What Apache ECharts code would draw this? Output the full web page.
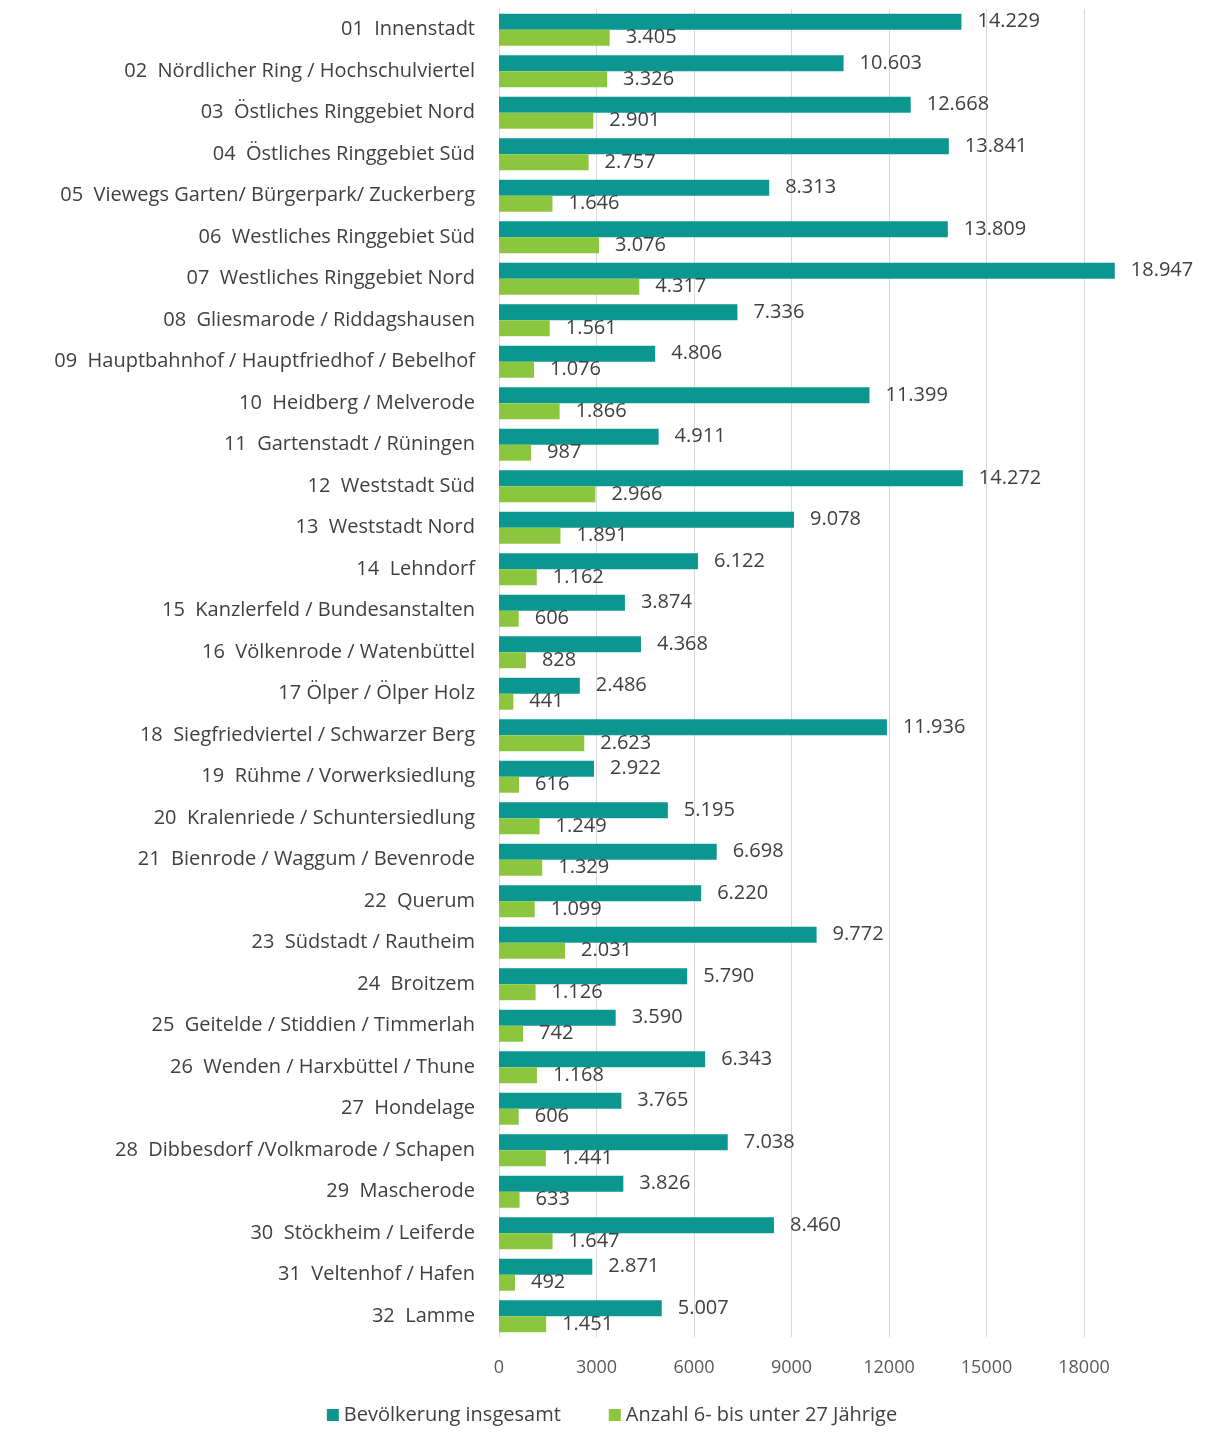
<!DOCTYPE html>
<html>
<head>
<meta charset="utf-8">
<script src="https://cdn.jsdelivr.net/npm/echarts@6/dist/echarts.min.js"></script>
<style>
  html, body { margin: 0; padding: 0; background: #fff; }
  #chart { width: 1224px; height: 1432px; }
</style>
</head>
<body>
<div id="chart"></div>
<script>
// Stadtbezirke (von oben nach unten)
const districts = [
  '01  Innenstadt',
  '02  Nördlicher Ring / Hochschulviertel',
  '03  Östliches Ringgebiet Nord',
  '04  Östliches Ringgebiet Süd',
  '05  Viewegs Garten/ Bürgerpark/ Zuckerberg',
  '06  Westliches Ringgebiet Süd',
  '07  Westliches Ringgebiet Nord',
  '08  Gliesmarode / Riddagshausen',
  '09  Hauptbahnhof / Hauptfriedhof / Bebelhof',
  '10  Heidberg / Melverode',
  '11  Gartenstadt / Rüningen',
  '12  Weststadt Süd',
  '13  Weststadt Nord',
  '14  Lehndorf',
  '15  Kanzlerfeld / Bundesanstalten',
  '16  Völkenrode / Watenbüttel',
  '17 Ölper / Ölper Holz',
  '18  Siegfriedviertel / Schwarzer Berg',
  '19  Rühme / Vorwerksiedlung',
  '20  Kralenriede / Schuntersiedlung',
  '21  Bienrode / Waggum / Bevenrode',
  '22  Querum',
  '23  Südstadt / Rautheim',
  '24  Broitzem',
  '25  Geitelde / Stiddien / Timmerlah',
  '26  Wenden / Harxbüttel / Thune',
  '27  Hondelage',
  '28  Dibbesdorf /Volkmarode / Schapen',
  '29  Mascherode',
  '30  Stöckheim / Leiferde',
  '31  Veltenhof / Hafen',
  '32  Lamme'
];

const population = [
  14229, 10603, 12668, 13841, 8313, 13809, 18947, 7336, 4806, 11399, 4911,
  14272, 9078, 6122, 3874, 4368, 2486, 11936, 2922, 5195, 6698, 6220, 9772,
  5790, 3590, 6343, 3765, 7038, 3826, 8460, 2871, 5007
];

const youth = [
  3405, 3326, 2901, 2757, 1646, 3076, 4317, 1561, 1076, 1866, 987,
  2966, 1891, 1162, 606, 828, 441, 2623, 616, 1249, 1329, 1099, 2031,
  1126, 742, 1168, 606, 1441, 633, 1647, 492, 1451
];

const seriesNames = ['Bevölkerung insgesamt', 'Anzahl 6- bis unter 27 Jährige'];
const colors = ['#0b968f', '#8cc63f'];

const font = '"Open Sans", Lato, sans-serif';

/* Tausendertrenner mit Punkt */
const fmt = (v) => String(v).replace(/\B(?=(\d{3})+(?!\d))/g, '.');

const labelStyle = {
  show: true,
  position: 'right',
  distance: 16,
  color: '#404040',
  fontSize: 20,
  fontFamily: font,
  formatter: (p) => fmt(p.value),
};

const myChart = echarts.init(document.getElementById('chart'), null, { renderer: 'canvas' });

myChart.setOption({
  animation: false,
  backgroundColor: '#fff',
  color: colors,
  grid: { left: 499, right: 140, top: 9, bottom: 95, containLabel: false },
  legend: {
    bottom: 2,
    left: 'center',
    icon: 'rect',
    itemWidth: 12,
    itemHeight: 12,
    itemGap: 48,
    textStyle: { color: '#404040', fontSize: 20, fontFamily: font },
    data: seriesNames,
  },
  xAxis: {
    type: 'value',
    min: 0,
    max: 18000,
    interval: 3000,
    axisLine: { show: false },
    axisTick: { show: false },
    axisLabel: {
      color: '#595959',
      fontSize: 18,
      fontFamily: font,
      margin: 22,
      formatter: (v) => String(v),
    },
    splitLine: { lineStyle: { color: '#d9d9d9', width: 1 } },
  },
  yAxis: {
    type: 'category',
    inverse: true,
    data: districts,
    axisLine: { lineStyle: { color: '#d9d9d9' } },
    axisTick: { show: false },
    axisLabel: { color: '#404040', fontSize: 20, fontFamily: font, margin: 24 },
  },
  series: [
    {
      name: seriesNames[0],
      type: 'bar',
      data: population,
      barWidth: 16,
      barGap: '0%',
      clip: false,
      label: labelStyle,
    },
    {
      name: seriesNames[1],
      type: 'bar',
      data: youth,
      barWidth: 16,
      barGap: '0%',
      clip: false,
      label: labelStyle,
    },
  ],
});
</script>
</body>
</html>
